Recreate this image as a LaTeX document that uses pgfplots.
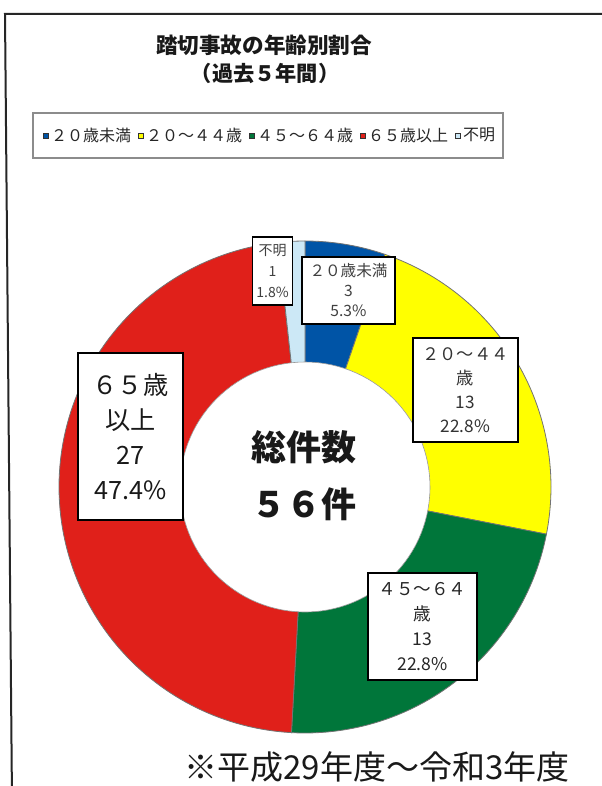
\documentclass[border=0pt]{standalone}
\usepackage{pgfplots}
\pgfplotsset{compat=1.18}
\usepackage{fontspec}
\setmainfont{Noto Sans CJK JP}
\newfontfamily\jp{Noto Sans CJK JP}
\definecolor{cA}{RGB}{0,84,166}
\definecolor{cB}{RGB}{255,255,0}
\definecolor{cC}{RGB}{0,118,58}
\definecolor{cD}{RGB}{224,32,26}
\definecolor{cE}{RGB}{204,232,246}
% data: counts per age group
\def\vA{3}\def\vB{13}\def\vC{13}\def\vD{27}\def\vE{1}
\pgfmathsetmacro\tot{\vA+\vB+\vC+\vD+\vE}
\pgfmathsetmacro\aA{0}
\pgfmathsetmacro\aB{\vA/\tot*360}
\pgfmathsetmacro\aC{(\vA+\vB)/\tot*360}
\pgfmathsetmacro\aD{(\vA+\vB+\vC)/\tot*360}
\pgfmathsetmacro\aE{(\vA+\vB+\vC+\vD)/\tot*360}
\pgfmathsetmacro\aF{360}
\begin{document}
\begin{tikzpicture}
\begin{axis}[
  scale only axis, width=300.5pt, height=393pt,
  xmin=0, xmax=601, ymin=0, ymax=786, y dir=reverse,
  hide axis, clip=false,
  legend columns=5,
  legend style={at={(axis cs:270,136)}, anchor=center, draw=none, fill=none,
    font=\jp\fontsize{8}{9}\selectfont, text=black!85,
    /tikz/every even column/.append style={column sep=2.2pt},
    nodes={inner sep=1.1pt}},
  legend image code/.code={\draw[#1, draw=black!80, line width=0.3pt] (0pt,-1.4pt) rectangle (2.8pt,1.4pt);},
]
\addplot[fill=cA, draw=black!55, line width=0.4pt, domain=\aA:\aB, samples=20] ({305+246*sin(x)},{487-246*cos(x)}) -- (axis cs:305,487) -- cycle;
\addlegendentry{２０歳未満}
\addplot[fill=cB, draw=black!55, line width=0.4pt, domain=\aB:\aC, samples=60] ({305+246*sin(x)},{487-246*cos(x)}) -- (axis cs:305,487) -- cycle;
\addlegendentry{２０～４４歳}
\addplot[fill=cC, draw=black!55, line width=0.4pt, domain=\aC:\aD, samples=60] ({305+246*sin(x)},{487-246*cos(x)}) -- (axis cs:305,487) -- cycle;
\addlegendentry{４５～６４歳}
\addplot[fill=cD, draw=black!55, line width=0.4pt, domain=\aD:\aE, samples=120] ({305+246*sin(x)},{487-246*cos(x)}) -- (axis cs:305,487) -- cycle;
\addlegendentry{６５歳以上}
\addplot[fill=cE, draw=black!55, line width=0.4pt, domain=\aE:\aF, samples=10] ({305+246*sin(x)},{487-246*cos(x)}) -- (axis cs:305,487) -- cycle;
\addlegendentry{不明}
\addplot[fill=white, draw=black!40, line width=0.3pt, domain=0:360, samples=120, forget plot] ({305+125*sin(x)},{487-125*cos(x)}) -- cycle;

% frame and legend box
\draw[line width=1pt, black!85] (axis cs:610,14) -- (axis cs:5,14) -- (axis cs:12,800);
\draw[line width=0.6pt, black!45] (axis cs:33,113) rectangle (axis cs:503,158);

% title
\node[font=\jp\bfseries\fontsize{10.8}{12}\selectfont, text=black!90] at (axis cs:264,45) {踏切事故の年齢別割合};
\node[font=\jp\bfseries\fontsize{10.6}{12}\selectfont, text=black!90] at (axis cs:265,73) {（過去５年間）};

% data labels
\node[draw=black, line width=0.7pt, fill=white, inner sep=0pt, minimum width=20pt, minimum height=34pt, align=center,
  font=\jp\fontsize{7}{10.5}\selectfont, text=black!75] at (axis cs:272.5,271) {不明\\1\\1.8\%};
\node[draw=black, line width=0.7pt, fill=white, inner sep=0pt, minimum width=46.5pt, minimum height=33.5pt, align=center,
  font=\jp\fontsize{7.8}{10}\selectfont, text=black!75] at (axis cs:348.5,290.5) {２０歳未満\\3\\5.3\%};
\node[draw=black, line width=0.7pt, fill=white, inner sep=0pt, minimum width=52.5pt, minimum height=52pt, align=center,
  font=\jp\fontsize{8.6}{12}\selectfont, text=black!80] at (axis cs:465.5,390) {２０～４４\\歳\\13\\22.8\%};
\node[draw=black, line width=0.7pt, fill=white, inner sep=0pt, minimum width=54.5pt, minimum height=53.5pt, align=center,
  font=\jp\fontsize{8.8}{12.5}\selectfont, text=black!85] at (axis cs:422.5,626.5) {４５～６４\\歳\\13\\22.8\%};
\node[draw=black, line width=0.7pt, fill=white, inner sep=0pt, minimum width=52.5pt, minimum height=83.5pt, align=center,
  font=\jp\fontsize{12.6}{17.5}\selectfont, text=black!90] at (axis cs:130.5,436.5) {６５歳\\以上\\27\\47.4\%};

% center text
\node[font=\jp\bfseries\fontsize{17.5}{28.5}\selectfont, text=black!90, align=center] at (axis cs:304,476) {総件数\\５６件};

% footnote
\node[font=\jp\fontsize{16.5}{18}\selectfont, text=black!90] at (axis cs:377,767) {※平成29年度～令和3年度};
\end{axis}
\pgfresetboundingbox
\useasboundingbox (0,0) rectangle (300.5pt,393pt);
\end{tikzpicture}
\end{document}
